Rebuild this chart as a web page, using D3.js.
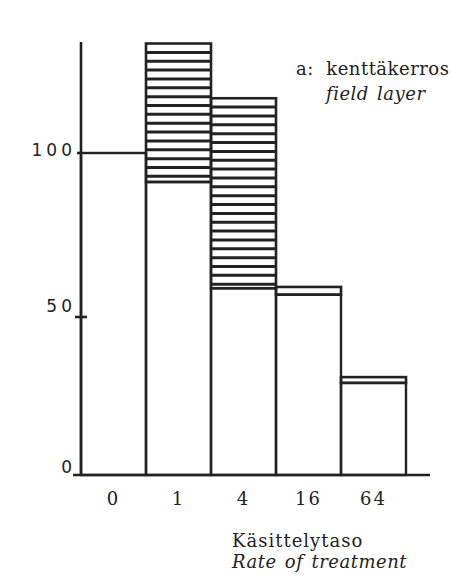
<!DOCTYPE html>
<html>
<head>
<meta charset="utf-8">
<script src="https://cdn.jsdelivr.net/npm/d3@7"></script>
<style>
  body { margin: 0; background: #fff; }
  text { fill: #222; }
  .serif { font-family: 'DejaVu Serif', 'Liberation Serif', serif; }
</style>
</head>
<body>
<div id="chart"></div>
<script>
// treatment rates and bar heights
let categories = ["0", "1", "4", "16", "64"];
let lowerValues = [100, 91, 58, 56, 28.6];   // open part of each bar
let totalValues = [100, 134, 117, 58.4, 30.4]; // top of hatched part
let yTicks = [0, 50, 100];
let yLabelShift = [-2, -2, 3];
let hatchStep = 2.75;

let width = 451, height = 576;
let ink = "#222";

let svg = d3.select("#chart")
  .append("svg")
  .attr("width", width)
  .attr("height", height);

let x = d3.scaleBand()
  .domain(categories)
  .range([81, 406])
  .padding(0);

let y = d3.scaleLinear()
  .domain([0, 100])
  .range([475, 153]);

let bars = categories.map(function(c, i) {
  return { cat: c, low: lowerValues[i], top: totalValues[i] };
});

// open lower part of each bar
svg.selectAll(".lower")
  .data(bars)
  .enter().append("rect")
  .attr("x", d => x(d.cat))
  .attr("y", d => y(d.low))
  .attr("width", x.bandwidth())
  .attr("height", d => y(0) - y(d.low))
  .style("fill", "none")
  .style("stroke", ink)
  .style("stroke-width", 2.4);

// hatched upper part
let upper = bars.filter(d => d.top > d.low);
svg.selectAll(".upper")
  .data(upper)
  .enter().append("rect")
  .attr("x", d => x(d.cat))
  .attr("y", d => y(d.top))
  .attr("width", x.bandwidth())
  .attr("height", d => y(d.low) - y(d.top))
  .style("fill", "none")
  .style("stroke", ink)
  .style("stroke-width", 2.6);

upper.forEach(function(d) {
  let lines = [];
  for (let v = d.top - hatchStep; v > d.low + 1; v -= hatchStep) lines.push(v);
  svg.selectAll(null)
    .data(lines)
    .enter().append("line")
    .attr("x1", x(d.cat))
    .attr("x2", x(d.cat) + x.bandwidth())
    .attr("y1", v => y(v))
    .attr("y2", v => y(v))
    .style("stroke", ink)
    .style("stroke-width", 3);
});

// axes
svg.append("line")
  .attr("x1", 81).attr("x2", 81)
  .attr("y1", 42).attr("y2", y(0))
  .style("stroke", ink).style("stroke-width", 2.6);

svg.append("line")
  .attr("x1", 73).attr("x2", 430)
  .attr("y1", y(0)).attr("y2", y(0))
  .style("stroke", ink).style("stroke-width", 2.6);

svg.append("line")
  .attr("x1", 75).attr("x2", 87)
  .attr("y1", y(50) + 3).attr("y2", y(50) + 3)
  .style("stroke", ink).style("stroke-width", 2.6);

svg.append("line")
  .attr("x1", 77).attr("x2", 81)
  .attr("y1", y(100)).attr("y2", y(100))
  .style("stroke", ink).style("stroke-width", 2.6);

svg.selectAll(".ylab")
  .data(yTicks)
  .enter().append("text")
  .text(d => d)
  .attr("x", 76)
  .attr("y", (d, i) => y(d) + yLabelShift[i])
  .style("text-anchor", "end")
  .style("font-family", "'DejaVu Sans', sans-serif")
  .style("font-size", "17px")
  .style("letter-spacing", "4px");

svg.selectAll(".xlab")
  .data(categories)
  .enter().append("text")
  .attr("class", "serif")
  .text(d => d)
  .attr("x", d => x(d) + x.bandwidth() / 2)
  .attr("y", 505)
  .style("text-anchor", "middle")
  .style("font-size", "18px")
  .style("letter-spacing", "2px");

// titles
svg.append("text").attr("class", "serif").text("Käsittelytaso")
  .attr("x", 232).attr("y", 547)
  .style("font-size", "18px")
  .style("letter-spacing", "1px");
svg.append("text").attr("class", "serif").text("Rate of treatment")
  .attr("x", 232).attr("y", 568)
  .style("font-style", "italic").style("font-size", "18px")
  .style("letter-spacing", "0.5px").style("word-spacing", "2px");

svg.append("text").attr("class", "serif").text("a:  kenttäkerros")
  .attr("x", 296).attr("y", 75)
  .style("font-size", "18px")
  .style("letter-spacing", "0.5px")
  .style("white-space", "pre");
svg.append("text").attr("class", "serif").text("field layer")
  .attr("x", 326).attr("y", 100)
  .style("font-style", "italic").style("font-size", "18px")
  .style("letter-spacing", "0.5px").style("word-spacing", "2px");
</script>
</body>
</html>
